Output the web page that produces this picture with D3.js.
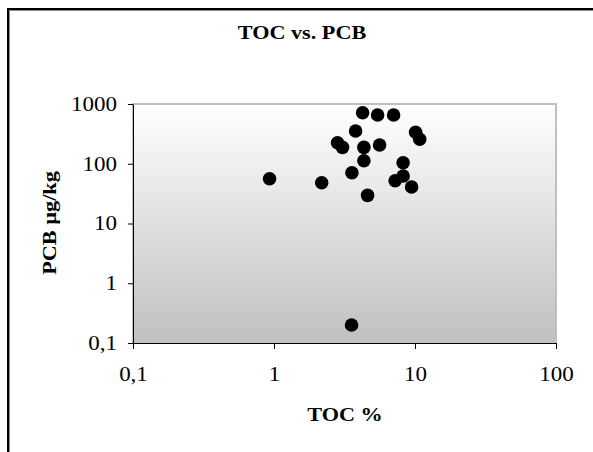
<!DOCTYPE html>
<html>
<head>
<meta charset="utf-8">
<script src="https://cdn.jsdelivr.net/npm/d3@7"></script>
<style>
  html, body { margin: 0; padding: 0; background: #fff; }
  svg text { font-family: "Liberation Serif", "Times New Roman", serif; fill: #000; }
</style>
</head>
<body>
<svg id="chart" width="593" height="452"></svg>
<script>
// TOC % (x) and PCB µg/kg (y)
var toc = [4.25, 5.43, 7.05, 3.79, 10.1, 10.8, 2.82, 3.06, 4.34, 5.61, 4.34, 8.24, 3.57, 0.93, 2.18, 8.24, 7.23, 9.46, 4.61, 3.55];
var pcb = [715, 655, 655, 353, 336, 257, 225, 188, 188, 206, 112, 104, 70.8, 56.2, 48.2, 62.4, 52, 40.8, 29.6, 0.2];

var xTicks = [0.1, 1, 10, 100];
var yTicks = [0.1, 1, 10, 100, 1000];
var tickLabel = function(d) { return d < 1 ? "0,1" : String(d); };

var svg = d3.select("svg#chart"),
    plot = {left: 133, top: 104, right: 556, bottom: 343},
    stretch = 1.17;   // the original text is drawn a bit wide

// outer chart frame (runs off the picture at right and bottom)
svg.append("rect")
    .attr("x", 8).attr("y", 9).attr("width", 600).attr("height", 460)
    .attr("fill", "#fff").attr("stroke", "#000").attr("stroke-width", 2);
svg.append("path")
    .attr("d", "M9.5,470 V10.5 H600")
    .attr("fill", "none").attr("stroke", "#888").attr("stroke-width", 1);

var grad = svg.append("defs").append("linearGradient")
    .attr("id", "bg").attr("x1", 0).attr("y1", 0).attr("x2", 0).attr("y2", 1);
grad.append("stop").attr("offset", "0%").attr("stop-color", "#ffffff");
grad.append("stop").attr("offset", "100%").attr("stop-color", "#c0c0c0");

var x = d3.scaleLog().domain([0.1, 100]).range([plot.left, plot.right]);
var y = d3.scaleLog().domain([0.1, 1000]).range([plot.bottom, plot.top]);

svg.append("rect")
    .attr("x", plot.left).attr("y", plot.top)
    .attr("width", plot.right - plot.left).attr("height", plot.bottom - plot.top)
    .attr("fill", "url(#bg)").attr("stroke", "#c0c0c0").attr("stroke-width", 2);

// axes
var gx = svg.append("g")
    .attr("transform", "translate(0," + plot.bottom + ")")
    .call(d3.axisBottom(x).tickValues(xTicks).tickFormat(tickLabel).tickSize(6).tickSizeOuter(0));
gx.selectAll("text")
    .attr("y", 24).attr("dy", "0.71em")
    .attr("font-size", 20)
    .attr("transform", "scale(1.15,1)");

var gy = svg.append("g")
    .attr("transform", "translate(" + plot.left + ",0)")
    .call(d3.axisLeft(y).tickValues(yTicks).tickFormat(tickLabel).tickSize(5).tickPadding(9).tickSizeOuter(0));
gy.selectAll("text")
    .attr("font-size", 20)
    .attr("transform", "scale(1.15,1)");

svg.selectAll(".domain").attr("stroke", "#000");
svg.selectAll(".tick line").attr("stroke", "#000");

// points
svg.append("g")
  .selectAll("circle")
  .data(toc.map(function(t, i) { return {toc: t, pcb: pcb[i]}; }))
  .enter().append("circle")
    .attr("cx", function(d) { return x(d.toc); })
    .attr("cy", function(d) { return y(d.pcb); })
    .attr("r", 6.8)
    .attr("fill", "#000");

// titles
svg.append("text")
    .attr("transform", "translate(302,39) scale(" + stretch + ",1)")
    .attr("text-anchor", "middle")
    .attr("font-size", 19).attr("font-weight", "bold")
    .text("TOC vs. PCB");

svg.append("text")
    .attr("transform", "translate(345,421) scale(" + stretch + ",1)")
    .attr("text-anchor", "middle")
    .attr("font-size", 19).attr("font-weight", "bold")
    .text("TOC %");

svg.append("text")
    .attr("transform", "translate(56,223) rotate(-90) scale(" + stretch + ",1)")
    .attr("text-anchor", "middle")
    .attr("font-size", 19).attr("font-weight", "bold")
    .text("PCB µg/kg");
</script>
</body>
</html>
